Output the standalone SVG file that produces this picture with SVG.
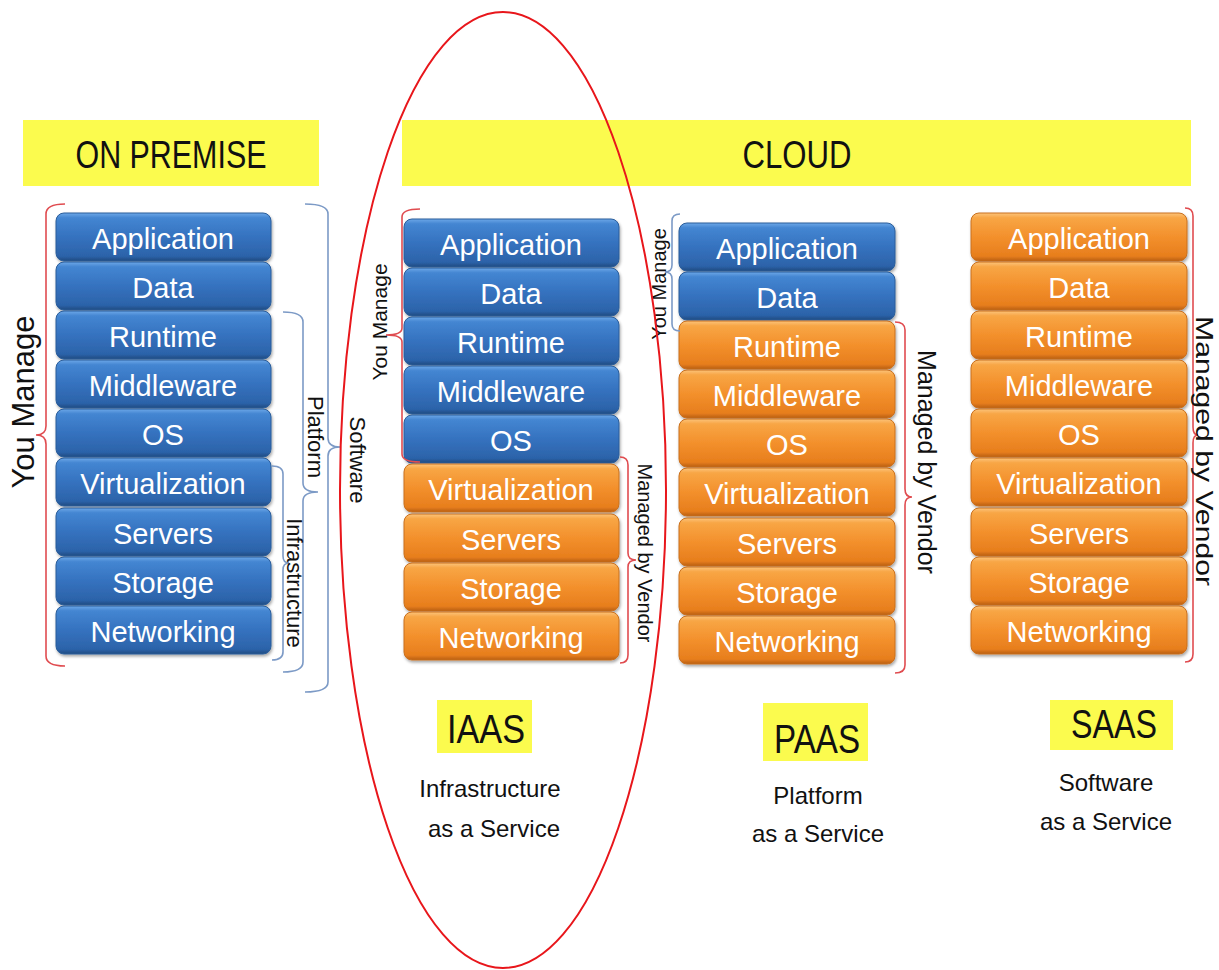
<svg xmlns="http://www.w3.org/2000/svg" width="1219" height="970" viewBox="0 0 1219 970">
<defs>
<linearGradient id="gBlue" x1="0" y1="0" x2="0" y2="1">
<stop offset="0" stop-color="#6ea8e8"/><stop offset="0.1" stop-color="#4486d2"/><stop offset="0.5" stop-color="#3572bf"/><stop offset="0.9" stop-color="#2c63a9"/><stop offset="1" stop-color="#1f4a80"/>
</linearGradient>
<linearGradient id="gOrange" x1="0" y1="0" x2="0" y2="1">
<stop offset="0" stop-color="#fcc47c"/><stop offset="0.1" stop-color="#f8a645"/><stop offset="0.5" stop-color="#f3902c"/><stop offset="0.9" stop-color="#e77e1d"/><stop offset="1" stop-color="#b95e13"/>
</linearGradient>
<filter id="sh" x="-5%" y="-10%" width="110%" height="130%">
<feDropShadow dx="1" dy="2" stdDeviation="1.5" flood-color="#000" flood-opacity="0.35"/>
</filter>
</defs>
<style>
.bb{fill:url(#gBlue);stroke:#2a5d9a;stroke-width:1;filter:url(#sh)}
.ob{fill:url(#gOrange);stroke:#c9701e;stroke-width:1;filter:url(#sh)}
.bt{font-family:"Liberation Sans",Arial,sans-serif;font-size:29px;fill:#fff;text-anchor:middle}
.yel{fill:#fbfb4e}
.hd{font-family:"Liberation Sans",Arial,sans-serif;font-size:38px;fill:#111;text-anchor:middle}
.ab{font-family:"Liberation Sans",Arial,sans-serif;font-size:40px;fill:#111;text-anchor:middle}
.sub{font-family:"Liberation Sans",Arial,sans-serif;font-size:24px;fill:#111;text-anchor:middle}
.lbl{font-family:"Liberation Sans",Arial,sans-serif;fill:#111;text-anchor:middle}
.rb{fill:none;stroke:#e04c50;stroke-width:1.6}
.blb{fill:none;stroke:#7c9ac6;stroke-width:1.6}
</style>
<rect width="1219" height="970" fill="#fff"/>

<g id="header-onpremise"><rect class="yel" x="23" y="120" width="296" height="66"/><text class="hd" x="171" y="168" textLength="191" lengthAdjust="spacingAndGlyphs">ON PREMISE</text></g>
<g id="header-cloud"><rect class="yel" x="402" y="120" width="789" height="66"/><text class="hd" x="797" y="168" textLength="109" lengthAdjust="spacingAndGlyphs">CLOUD</text></g>

<!-- On premise stack -->
<g id="onprem-application"><rect class="bb" x="56" y="213" width="215" height="48" rx="8"/><text class="bt" x="163" y="249">Application</text></g>
<g id="onprem-data"><rect class="bb" x="56" y="262" width="215" height="48" rx="8"/><text class="bt" x="163" y="298">Data</text></g>
<g id="onprem-runtime"><rect class="bb" x="56" y="311" width="215" height="48" rx="8"/><text class="bt" x="163" y="347">Runtime</text></g>
<g id="onprem-middleware"><rect class="bb" x="56" y="360" width="215" height="48" rx="8"/><text class="bt" x="163" y="396">Middleware</text></g>
<g id="onprem-os"><rect class="bb" x="56" y="409" width="215" height="48" rx="8"/><text class="bt" x="163" y="445">OS</text></g>
<g id="onprem-virtualization"><rect class="bb" x="56" y="458" width="215" height="48" rx="8"/><text class="bt" x="163" y="494">Virtualization</text></g>
<g id="onprem-servers"><rect class="bb" x="56" y="508" width="215" height="48" rx="8"/><text class="bt" x="163" y="544">Servers</text></g>
<g id="onprem-storage"><rect class="bb" x="56" y="557" width="215" height="48" rx="8"/><text class="bt" x="163" y="593">Storage</text></g>
<g id="onprem-networking"><rect class="bb" x="56" y="606" width="215" height="48" rx="8"/><text class="bt" x="163" y="642">Networking</text></g>

<!-- IAAS stack -->
<g id="iaas-application"><rect class="bb" x="404" y="219" width="215" height="48" rx="8"/><text class="bt" x="511" y="255">Application</text></g>
<g id="iaas-data"><rect class="bb" x="404" y="268" width="215" height="48" rx="8"/><text class="bt" x="511" y="304">Data</text></g>
<g id="iaas-runtime"><rect class="bb" x="404" y="317" width="215" height="48" rx="8"/><text class="bt" x="511" y="353">Runtime</text></g>
<g id="iaas-middleware"><rect class="bb" x="404" y="366" width="215" height="48" rx="8"/><text class="bt" x="511" y="402">Middleware</text></g>
<g id="iaas-os"><rect class="bb" x="404" y="415" width="215" height="48" rx="8"/><text class="bt" x="511" y="451">OS</text></g>
<g id="iaas-virtualization"><rect class="ob" x="404" y="464" width="215" height="48" rx="8"/><text class="bt" x="511" y="500">Virtualization</text></g>
<g id="iaas-servers"><rect class="ob" x="404" y="514" width="215" height="48" rx="8"/><text class="bt" x="511" y="550">Servers</text></g>
<g id="iaas-storage"><rect class="ob" x="404" y="563" width="215" height="48" rx="8"/><text class="bt" x="511" y="599">Storage</text></g>
<g id="iaas-networking"><rect class="ob" x="404" y="612" width="215" height="48" rx="8"/><text class="bt" x="511" y="648">Networking</text></g>

<!-- PAAS stack -->
<g id="paas-application"><rect class="bb" x="679" y="223" width="216" height="48" rx="8"/><text class="bt" x="787" y="259">Application</text></g>
<g id="paas-data"><rect class="bb" x="679" y="272" width="216" height="48" rx="8"/><text class="bt" x="787" y="308">Data</text></g>
<g id="paas-runtime"><rect class="ob" x="679" y="321" width="216" height="48" rx="8"/><text class="bt" x="787" y="357">Runtime</text></g>
<g id="paas-middleware"><rect class="ob" x="679" y="370" width="216" height="48" rx="8"/><text class="bt" x="787" y="406">Middleware</text></g>
<g id="paas-os"><rect class="ob" x="679" y="419" width="216" height="48" rx="8"/><text class="bt" x="787" y="455">OS</text></g>
<g id="paas-virtualization"><rect class="ob" x="679" y="468" width="216" height="48" rx="8"/><text class="bt" x="787" y="504">Virtualization</text></g>
<g id="paas-servers"><rect class="ob" x="679" y="518" width="216" height="48" rx="8"/><text class="bt" x="787" y="554">Servers</text></g>
<g id="paas-storage"><rect class="ob" x="679" y="567" width="216" height="48" rx="8"/><text class="bt" x="787" y="603">Storage</text></g>
<g id="paas-networking"><rect class="ob" x="679" y="616" width="216" height="48" rx="8"/><text class="bt" x="787" y="652">Networking</text></g>

<!-- SAAS stack -->
<g id="saas-application"><rect class="ob" x="971" y="213" width="216" height="48" rx="8"/><text class="bt" x="1079" y="249">Application</text></g>
<g id="saas-data"><rect class="ob" x="971" y="262" width="216" height="48" rx="8"/><text class="bt" x="1079" y="298">Data</text></g>
<g id="saas-runtime"><rect class="ob" x="971" y="311" width="216" height="48" rx="8"/><text class="bt" x="1079" y="347">Runtime</text></g>
<g id="saas-middleware"><rect class="ob" x="971" y="360" width="216" height="48" rx="8"/><text class="bt" x="1079" y="396">Middleware</text></g>
<g id="saas-os"><rect class="ob" x="971" y="409" width="216" height="48" rx="8"/><text class="bt" x="1079" y="445">OS</text></g>
<g id="saas-virtualization"><rect class="ob" x="971" y="458" width="216" height="48" rx="8"/><text class="bt" x="1079" y="494">Virtualization</text></g>
<g id="saas-servers"><rect class="ob" x="971" y="508" width="216" height="48" rx="8"/><text class="bt" x="1079" y="544">Servers</text></g>
<g id="saas-storage"><rect class="ob" x="971" y="557" width="216" height="48" rx="8"/><text class="bt" x="1079" y="593">Storage</text></g>
<g id="saas-networking"><rect class="ob" x="971" y="606" width="216" height="48" rx="8"/><text class="bt" x="1079" y="642">Networking</text></g>

<!-- Brackets -->
<g id="connectors">
<path class="rb" d="M65,204 Q46,204 46,214 L46,426 Q46,435 36,435 Q46,435 46,444 L46,656 Q46,666 65,666"/>
<path class="blb" d="M305,204 Q328,204 328,214 L328,438 Q328,447 340,447 Q328,447 328,456 L328,682 Q328,692 305,692"/>
<path class="blb" d="M283,312 Q303,312 303,322 L303,483 Q303,492 318,492 Q303,492 303,501 L303,662 Q303,672 283,672"/>
<path class="blb" d="M272,466 Q283,466 283,474 L283,556 Q283,563 289,563 Q283,563 283,570 L283,652 Q283,660 272,660"/>
<path class="rb" d="M420,209 Q402,209 402,217 L402,328 Q402,335 386,335 Q402,335 402,342 L402,454 Q402,462 420,462"/>
<path class="rb" d="M620,457 Q628,457 628,465 L628,553 Q628,560 636,560 Q628,560 628,567 L628,655 Q628,663 620,663"/>
<path class="blb" d="M680,214 Q672,214 672,221 L672,265 Q672,272 665,272 Q672,272 672,279 L672,324 Q672,331 680,331"/>
<path class="rb" d="M895,322 Q905,322 905,330 L905,489 Q905,497 912,497 Q905,497 905,505 L905,665 Q905,673 895,673"/>
<path class="rb" d="M1185,208 Q1193,208 1193,216 L1193,427 Q1193,435 1198,435 Q1193,435 1193,443 L1193,654 Q1193,662 1185,662"/>
</g>

<!-- Bracket labels -->
<text class="lbl" font-size="31" transform="translate(34,402) rotate(-90)">You Manage</text>
<text class="lbl" font-size="22" transform="translate(350,460) rotate(90)">Software</text>
<text class="lbl" font-size="22" transform="translate(308,437) rotate(90)">Platform</text>
<text class="lbl" font-size="22" transform="translate(287,583) rotate(90)">Infrastructure</text>
<text class="lbl" font-size="21" transform="translate(387,322) rotate(-90)">You Manage</text>
<text class="lbl" font-size="20" transform="translate(638,553) rotate(90)">Managed by Vendor</text>
<text class="lbl" font-size="20" transform="translate(666,284) rotate(-90)">You Manage</text>
<text class="lbl" font-size="25" transform="translate(918,462) rotate(90)">Managed by Vendor</text>
<text class="lbl" font-size="24" transform="translate(1196,451) rotate(90)" textLength="270" lengthAdjust="spacingAndGlyphs">Managed by Vendor</text>

<!-- Bottom labels -->
<g id="label-iaas"><rect class="yel" x="437" y="700" width="95" height="53"/><text class="ab" x="486" y="743" textLength="78" lengthAdjust="spacingAndGlyphs">IAAS</text>
<text class="sub" x="490" y="797">Infrastructure</text><text class="sub" x="494" y="837">as a Service</text></g>
<g id="label-paas"><rect class="yel" x="763" y="703" width="105" height="58"/><text class="ab" x="817" y="753" textLength="86" lengthAdjust="spacingAndGlyphs">PAAS</text>
<text class="sub" x="818" y="804">Platform</text><text class="sub" x="818" y="842">as a Service</text></g>
<g id="label-saas"><rect class="yel" x="1050" y="700" width="123" height="50"/><text class="ab" x="1114" y="738" textLength="86" lengthAdjust="spacingAndGlyphs">SAAS</text>
<text class="sub" x="1106" y="791">Software</text><text class="sub" x="1106" y="830">as a Service</text></g>

<ellipse id="iaas-highlight" cx="503" cy="490" rx="163" ry="478" fill="none" stroke="#e8161b" stroke-width="2"/>
</svg>
